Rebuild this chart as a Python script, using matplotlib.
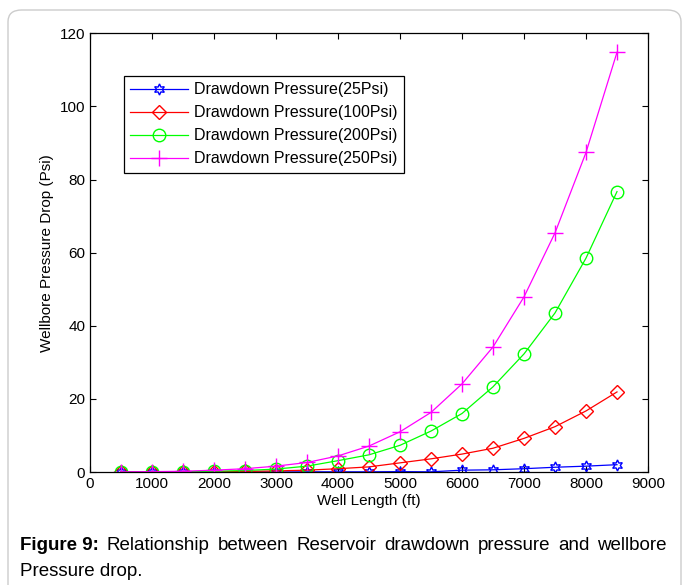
import numpy as np
import matplotlib.pyplot as plt
from matplotlib.patches import FancyBboxPatch

plt.rcParams['font.family'] = ['Liberation Sans', 'DejaVu Sans']

length = [500, 1000, 1500, 2000, 2500, 3000, 3500, 4000, 4500,
          5000, 5500, 6000, 6500, 7000, 7500, 8000, 8500]
dp25 = [0.0, 0.0, 0.0, 0.0, 0.0, 0.0, 0.05, 0.05, 0.05,
        0.1, 0.05, 0.5, 0.6, 0.9, 1.3, 1.6, 2.0]
dp100 = [0.0, 0.0, 0.05, 0.1, 0.15, 0.3, 0.5, 0.9, 1.4,
         2.5, 3.6, 4.9, 6.5, 9.2, 12.4, 16.7, 21.9]
dp200 = [0.0, 0.05, 0.1, 0.2, 0.4, 0.8, 1.6, 3.1, 4.7,
         7.3, 11.2, 16.0, 23.3, 32.3, 43.5, 58.5, 76.7]
dp250 = [0.05, 0.1, 0.2, 0.5, 0.9, 1.6, 2.6, 4.4, 7.1,
         11.0, 16.3, 24.1, 34.2, 47.9, 65.4, 87.4, 114.8]

labels = ['Drawdown Pressure(25Psi)', 'Drawdown Pressure(100Psi)',
          'Drawdown Pressure(200Psi)', 'Drawdown Pressure(250Psi)']
xticks = np.arange(0, 9001, 1000)
yticks = np.arange(0, 121, 20)
caption1 = 'Relationship between Reservoir drawdown pressure and wellbore'

fig = plt.figure(figsize=(6.83, 5.85), dpi=100)
ax = fig.add_axes([90/683, 1-472/585, 558/683, 438.7/585])

ax.plot(length, dp25, color='blue', lw=0.9, marker=(6, 1, 0), ms=8,
        mfc='none', mec='blue', label=labels[0])
ax.plot(length, dp100, color='red', lw=0.9, marker='D', ms=7,
        mfc='none', mec='red', label=labels[1])
ax.plot(length, dp200, color='#00ff00', lw=0.9, marker='o', ms=9,
        mfc='none', mec='#00ff00', label=labels[2])
ax.plot(length, dp250, color='magenta', lw=0.9, marker='+', ms=11,
        mec='magenta', label=labels[3])

ax.set_xlim(0, 9000)
ax.set_ylim(0, 120)
ax.set_xticks(xticks)
ax.set_yticks(yticks)
ax.tick_params(direction='in', top=True, right=True, length=4,
               labelsize=11, width=0.8)
for s in ax.spines.values():
    s.set_linewidth(0.9)
ax.set_xlabel('Well Length (ft)', fontsize=11, labelpad=2)
ax.set_ylabel('Wellbore Pressure Drop (Psi)', fontsize=11, labelpad=4)

leg = ax.legend(loc='upper left', bbox_to_anchor=(0.061, 0.903),
                fontsize=11.5, fancybox=False, edgecolor='black',
                framealpha=1, borderpad=0.4, labelspacing=0.5,
                handlelength=3.6, handletextpad=0.4, borderaxespad=0)
leg.get_frame().set_linewidth(0.9)

border = FancyBboxPatch((8/683, -0.05), 673/683, 1-10/585+0.05,
                        boxstyle='round,pad=0,rounding_size=0.02',
                        transform=fig.transFigure, fill=False,
                        edgecolor='#cccccc', lw=1.0)
fig.patches.append(border)

# justified first caption line
y1 = 1-545/585
words = [('Figure 9:', 'bold')] + [(w, 'normal') for w in caption1.split()]
r = fig.canvas.get_renderer()
objs = [fig.text(0, y1, w, fontsize=13.5, weight=wt, va='center') for w, wt in words]
widths = [o.get_window_extent(r).width for o in objs]
x0, x1 = 20, 667
gap = (x1 - x0 - sum(widths)) / (len(words) - 1)
x = x0
for o, w in zip(objs, widths):
    o.set_x(x/683)
    x += w + gap
fig.text(20/683, 1-572/585, 'Pressure drop.', fontsize=13.5, va='center')

fig.savefig('out.png', dpi=100)
